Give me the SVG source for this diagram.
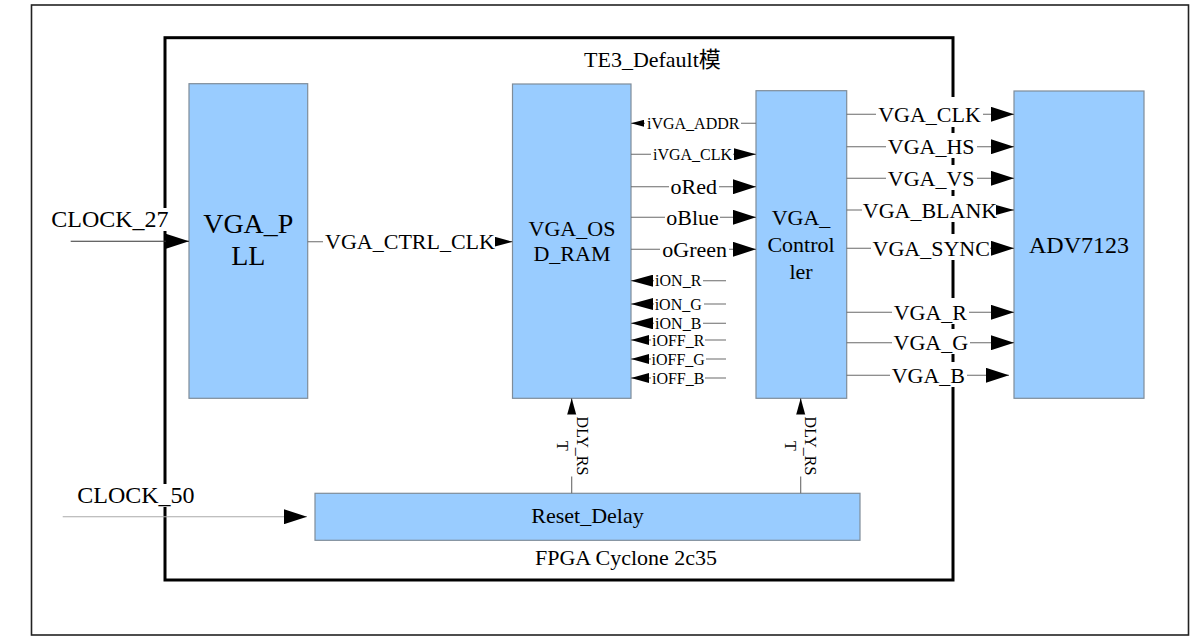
<svg xmlns="http://www.w3.org/2000/svg" width="1195" height="641" viewBox="0 0 1195 641">
<style>
text{font-family:"Liberation Serif","Times New Roman","Noto Sans CJK SC",serif;fill:#000}
.box{fill:#99CCFF;stroke:#7f8c99;stroke-width:1.2}
.w{fill:#fff}
.ln{stroke:#6a6a6a;stroke-width:1.1;fill:none}
.f22{font-size:22px}
.f16{font-size:16px}
.f24{font-size:24px}
.m{text-anchor:middle}
</style>
<defs>
<marker id="aL" markerWidth="23" markerHeight="15" refX="23" refY="7.5" orient="auto" markerUnits="userSpaceOnUse"><path d="M0,0 L23,7.5 L0,15 z" fill="#000"/></marker>
<marker id="aN" markerWidth="22" markerHeight="12" refX="22" refY="6" orient="auto" markerUnits="userSpaceOnUse"><path d="M0,0 L22,6 L0,12 z" fill="#000"/></marker>
<marker id="aM" markerWidth="18" markerHeight="10" refX="18" refY="5" orient="auto" markerUnits="userSpaceOnUse"><path d="M0,0 L18,5 L0,10 z" fill="#000"/></marker>
<marker id="aS" markerWidth="13" markerHeight="7" refX="13" refY="3.5" orient="auto" markerUnits="userSpaceOnUse"><path d="M0,0 L13,3.5 L0,7 z" fill="#000"/></marker>
</defs>
<rect width="1195" height="641" fill="#fff"/>
<g id="frame">
<rect x="31.5" y="5" width="1157" height="630" fill="none" stroke="#222" stroke-width="1.6"/>
<rect x="165" y="37.7" width="788" height="542.3" fill="none" stroke="#000" stroke-width="3"/>
<text class="f22" x="584" y="66.7">TE3_Default模</text>
<text class="f22" x="535" y="565">FPGA Cyclone 2c35</text>
</g>
<g id="VGA_PLL">
<rect class="box" x="189" y="83.7" width="118.7" height="314.6"/>
<text class="m" style="font-size:28px" x="248.3" y="233.3">VGA_P</text>
<text class="m" style="font-size:28px" x="248.3" y="265">LL</text>
</g>
<g id="VGA_OSD_RAM">
<rect class="box" x="512.5" y="84" width="118.5" height="314.3"/>
<text class="f22 m" x="572" y="235.5">VGA_OS</text>
<text class="f22 m" x="572" y="260.5">D_RAM</text>
</g>
<g id="VGA_Controller">
<rect class="box" x="756" y="90.7" width="90.7" height="307.6"/>
<text class="f22 m" x="801" y="225">VGA_</text>
<text class="f22 m" x="801" y="252">Control</text>
<text class="f22 m" x="801" y="279">ler</text>
</g>
<g id="ADV7123">
<rect class="box" x="1014" y="91" width="130" height="307.3"/>
<text class="f24 m" x="1079" y="252.7">ADV7123</text>
</g>
<g id="Reset_Delay">
<rect class="box" x="315" y="493.3" width="545" height="47"/>
<text class="f22 m" x="587.5" y="522.7">Reset_Delay</text>
</g>
<g id="connectors">
<line class="ln" style="stroke:#333" x1="70.7" y1="241.3" x2="189" y2="241.3" marker-end="url(#aL)"/>
<line class="ln" style="stroke:#aaa" x1="62.7" y1="516.7" x2="307" y2="516.7" marker-end="url(#aL)"/>
<line class="ln" x1="307.7" y1="241.7" x2="512.5" y2="241.7" marker-end="url(#aM)"/>
<line class="ln" x1="756" y1="123.3" x2="631" y2="123.3" marker-end="url(#aS)"/>
<line class="ln" x1="631" y1="154.3" x2="756" y2="154.3" marker-end="url(#aN)"/>
<line class="ln" x1="631" y1="186.7" x2="756" y2="186.7" marker-end="url(#aL)"/>
<line class="ln" x1="631" y1="217.3" x2="756" y2="217.3" marker-end="url(#aL)"/>
<line class="ln" x1="631" y1="249.3" x2="756" y2="249.3" marker-end="url(#aL)"/>
<line class="ln" x1="726" y1="280.7" x2="631" y2="280.7" marker-end="url(#aN)"/>
<line class="ln" x1="726" y1="304" x2="631" y2="304" marker-end="url(#aN)"/>
<line class="ln" x1="726" y1="323.3" x2="631" y2="323.3" marker-end="url(#aN)"/>
<line class="ln" x1="726" y1="340" x2="631" y2="340" marker-end="url(#aM)"/>
<line class="ln" x1="726" y1="359" x2="631" y2="359" marker-end="url(#aM)"/>
<line class="ln" x1="726" y1="378" x2="631" y2="378" marker-end="url(#aM)"/>
<line class="ln" x1="846.7" y1="114.3" x2="1014" y2="114.3" marker-end="url(#aL)"/>
<line class="ln" x1="846.7" y1="146.7" x2="1014" y2="146.7" marker-end="url(#aL)"/>
<line class="ln" x1="846.7" y1="178.3" x2="1014" y2="178.3" marker-end="url(#aL)"/>
<line class="ln" x1="846.7" y1="210" x2="1014" y2="210" marker-end="url(#aM)"/>
<line class="ln" x1="846.7" y1="248.3" x2="1014" y2="248.3" marker-end="url(#aL)"/>
<line class="ln" x1="846.7" y1="312.3" x2="1014" y2="312.3" marker-end="url(#aL)"/>
<line class="ln" x1="846.7" y1="342.7" x2="1014" y2="342.7" marker-end="url(#aL)"/>
<line class="ln" x1="846.7" y1="375.3" x2="1009" y2="375.3" marker-end="url(#aL)"/>
<line class="ln" x1="571.7" y1="493.3" x2="571.7" y2="398.3" marker-end="url(#aM)"/>
<line class="ln" x1="800.7" y1="493.3" x2="800.7" y2="398.3" marker-end="url(#aM)"/>
<g id="labels">
<rect class="w" x="50" y="208" width="120" height="23"/>
<text class="f24 m" x="109.9" y="226.7">CLOCK_27</text>
<rect class="w" x="75" y="484" width="122" height="23"/>
<text class="f24 m" x="135.9" y="502.7">CLOCK_50</text>
<rect class="w" x="323" y="226.7" width="172" height="27"/>
<text class="f22 m" x="410" y="249.2">VGA_CTRL_CLK</text>
<rect class="w" x="645" y="113" width="96" height="19"/>
<text class="f16 m" x="693.2" y="129.3">iVGA_ADDR</text>
<rect class="w" x="651" y="144" width="82" height="19"/>
<text class="f16 m" x="692.5" y="160">iVGA_CLK</text>
<rect class="w" x="669" y="172" width="50" height="27"/>
<text class="f22 m" x="693.7" y="193.5">oRed</text>
<rect class="w" x="665" y="203" width="55" height="27"/>
<text class="f22 m" x="692.5" y="224.5">oBlue</text>
<rect class="w" x="660" y="235" width="69" height="27"/>
<text class="f22 m" x="694.7" y="256.5">oGreen</text>
<rect class="w" x="654" y="272" width="49" height="16"/>
<text class="f16 m" x="678.2" y="286.2">iON_R</text>
<rect class="w" x="654" y="295" width="50" height="16"/>
<text class="f16 m" x="678.2" y="309.5">iON_G</text>
<rect class="w" x="654" y="315" width="49" height="15"/>
<text class="f16 m" x="678.2" y="328.8">iON_B</text>
<rect class="w" x="651" y="332" width="54" height="15"/>
<text class="f16 m" x="678.2" y="345.5">iOFF_R</text>
<rect class="w" x="651" y="351" width="55" height="15"/>
<text class="f16 m" x="678.2" y="364.5">iOFF_G</text>
<rect class="w" x="651" y="370" width="54" height="15"/>
<text class="f16 m" x="678.2" y="383.5">iOFF_B</text>
<rect class="w" x="876" y="97" width="107" height="30"/>
<text class="f22 m" x="929.5" y="122">VGA_CLK</text>
<rect class="w" x="886" y="133" width="91" height="25"/>
<text class="f22 m" x="931.2" y="154.3">VGA_HS</text>
<rect class="w" x="886" y="165" width="91" height="25"/>
<text class="f22 m" x="931.2" y="186">VGA_VS</text>
<rect class="w" x="862" y="196" width="134" height="26"/>
<text class="f22 m" x="930" y="217.6">VGA_BLANK</text>
<rect class="w" x="871" y="234" width="119" height="26"/>
<text class="f22 m" x="931.2" y="256">VGA_SYNC</text>
<rect class="w" x="892" y="298" width="77" height="26"/>
<text class="f22 m" x="930.3" y="320">VGA_R</text>
<rect class="w" x="892" y="329" width="78" height="25"/>
<text class="f22 m" x="930.8" y="350.4">VGA_G</text>
<rect class="w" x="890" y="362" width="77" height="25"/>
<text class="f22 m" x="928.3" y="383">VGA_B</text>
<rect class="w" x="552" y="414.5" width="39" height="62"/>
<text class="f16 m" transform="translate(576.7,446) rotate(90)"><tspan x="0" y="0">DLY_RS</tspan><tspan x="0" y="20">T</tspan></text>
<rect class="w" x="781" y="414.5" width="39" height="62"/>
<text class="f16 m" transform="translate(805,446) rotate(90)"><tspan x="0" y="0">DLY_RS</tspan><tspan x="0" y="20">T</tspan></text>
</g>
</g>
</svg>
